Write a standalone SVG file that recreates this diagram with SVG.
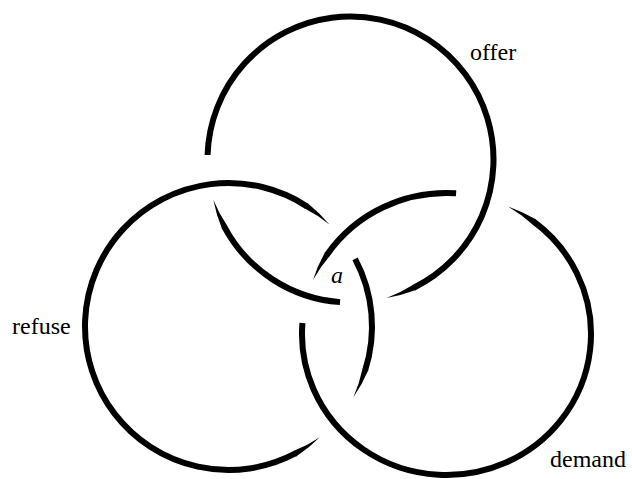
<svg xmlns="http://www.w3.org/2000/svg" width="632" height="479" viewBox="0 0 632 479">
<style>
.ring{fill:none;stroke:#000;stroke-width:6;stroke-linecap:butt}
.tip{fill:#000;stroke:none}
.lbl{font-family:"Liberation Serif","Times New Roman",serif;font-size:24px;fill:#000}
.it{font-style:italic}
</style>
<rect width="632" height="479" fill="#fff"/>
<g id="offer">
<path class="ring" d="M207.57,155.01 A143,143 0 1 1 413.86,287.70"/>
<path class="tip" d="M415.87,290.05 A146,146 0 0 1 386.55,297.88 A140,140 0 0 0 413.19,284.68 Z"/>
<path class="ring" d="M340.03,302.12 A143,143 0 0 1 224.36,226.85"/>
<path class="tip" d="M222.07,228.94 A146,146 0 0 1 213.32,199.87 A140,140 0 0 0 227.35,226.09 Z"/>
<text class="lbl" x="470" y="60">offer</text>
</g>
<g id="refuse">
<path class="ring" d="M355.09,258.91 A143.5,143.5 0 0 1 365.21,370.13"/>
<path class="tip" d="M368.30,370.31 A146.5,146.5 0 0 1 353.52,396.94 A140.5,140.5 0 0 0 362.57,368.51 Z"/>
<path class="ring" d="M295.43,453.44 A143.5,143.5 0 1 1 306.66,206.15"/>
<path class="tip" d="M296.15,456.45 A146.5,146.5 0 0 0 319.78,437.23 A140.5,140.5 0 0 1 293.38,451.12 Z"/>
<path class="tip" d="M307.65,203.22 A146.5,146.5 0 0 1 329.44,224.50 A140.5,140.5 0 0 0 304.40,208.27 Z"/>
<text class="lbl" x="12" y="334">refuse</text>
</g>
<g id="demand">
<path class="ring" d="M302.44,322.94 A144.5,141 0 1 0 533.26,221.25"/>
<path class="tip" d="M535.68,219.30 A147.5,144 0 0 0 508.03,206.42 A141.5,138 0 0 1 532.05,224.08 Z"/>
<path class="ring" d="M456.08,193.31 A144.5,141 0 0 0 326.99,254.75"/>
<path class="tip" d="M324.94,252.44 A147.5,144 0 0 0 313.00,280.04 A141.5,138 0 0 1 329.89,255.84 Z"/>
<text class="lbl" x="550" y="467">demand</text>
</g>
<g id="center-label">
<text class="lbl it" x="331" y="283">a</text>
</g>
</svg>
